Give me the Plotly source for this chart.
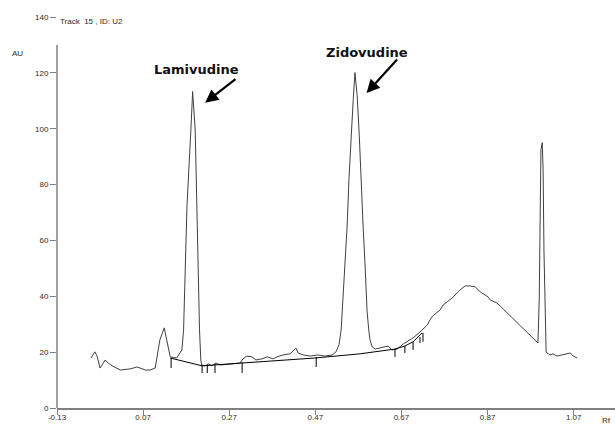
import plotly.graph_objects as go

# Densitogram trace (Rf, AU)
rf = [-0.051, -0.042, -0.037, -0.030, -0.018, -0.011, -0.002, 0.017, 0.040, 0.056,
      0.075, 0.086, 0.098, 0.109, 0.119, 0.126, 0.133, 0.148, 0.160, 0.164,
      0.167, 0.172, 0.181, 0.185, 0.191, 0.196, 0.201, 0.204, 0.206, 0.214,
      0.221, 0.230, 0.239, 0.249, 0.272, 0.295, 0.302, 0.311, 0.323, 0.332,
      0.346, 0.358, 0.372, 0.381, 0.395, 0.411, 0.418, 0.425, 0.430, 0.442,
      0.458, 0.476, 0.493, 0.509, 0.518, 0.525, 0.530, 0.534, 0.539, 0.544,
      0.548, 0.553, 0.558, 0.562, 0.567, 0.572, 0.576, 0.581, 0.586, 0.590,
      0.594, 0.597, 0.602, 0.609, 0.620, 0.639, 0.648, 0.660, 0.674, 0.690,
      0.697, 0.713, 0.730, 0.736, 0.743, 0.760, 0.767, 0.776, 0.788, 0.799,
      0.806, 0.818, 0.829, 0.841, 0.853, 0.871, 0.876, 0.892, 0.915, 0.939,
      0.957, 0.973, 0.987, 0.990, 0.992, 0.994, 0.997, 0.999, 1.001, 1.004,
      1.006, 1.008, 1.015, 1.022, 1.031, 1.043, 1.062, 1.069, 1.078]
au = [17.9, 20.1, 18.6, 14.3, 17.2, 16.1, 15.1, 13.6, 14.0, 14.7,
      13.6, 13.6, 14.3, 24.4, 28.7, 23.3, 18.3, 17.9, 20.8, 28.0,
      45.9, 72.8, 99.6, 113.3, 99.6, 57.7, 28.0, 17.2, 15.4, 15.1,
      15.8, 15.1, 16.1, 15.4, 15.8, 16.1, 17.6, 18.6, 18.3, 17.2,
      17.6, 18.3, 17.6, 18.3, 19.0, 19.4, 20.4, 21.5, 19.7, 19.0,
      18.6, 19.0, 18.6, 19.0, 20.1, 22.6, 28.0, 38.7, 53.0, 65.6,
      81.7, 97.8, 110.4, 120.1, 112.2, 97.8, 81.7, 64.9, 49.5, 35.1,
      28.0, 24.4, 21.9, 21.1, 21.5, 22.2, 20.8, 21.1, 22.9, 24.4,
      25.1, 27.2, 29.7, 31.5, 33.0, 35.1, 36.9, 38.0, 39.4, 41.2,
      42.3, 43.7, 43.7, 43.4, 41.6, 39.8, 38.7, 37.6, 34.1, 30.5,
      28.0, 25.4, 23.3, 38.7, 74.6, 92.5, 95.0, 85.3, 56.6, 31.5,
      20.1, 19.7, 19.0, 19.4, 18.6, 19.0, 19.7, 18.6, 17.9]

# Integration baseline
base_rf = [0.133, 0.207, 0.300, 0.469, 0.574, 0.655, 0.678, 0.697, 0.718]
base_au = [17.9, 15.1, 16.1, 17.9, 19.4, 21.1, 22.2, 23.7, 26.9]

# Peak delimiter marks
mark_rf = [0.135, 0.207, 0.219, 0.237, 0.300, 0.472, 0.655, 0.678, 0.697, 0.713, 0.720]
mark_top = [17.9, 15.4, 15.4, 15.8, 16.5, 18.3, 21.1, 22.2, 23.7, 25.4, 26.9]
mark_bot = [14.3, 12.5, 12.5, 12.5, 12.5, 14.7, 18.3, 19.7, 20.8, 23.3, 23.7]

x_ticks = [-0.13, 0.07, 0.27, 0.47, 0.67, 0.87, 1.07]
x_tick_labels = ["-0.13", "0.07", "0.27", "0.47", "0.67", "0.87", "1.07"]
y_ticks = [0, 20, 40, 60, 80, 100, 120, 140]

# peak labels: (name, text Rf, text AU, arrow tail Rf, tail AU, head Rf, head AU)
peaks = [
    ("Lamivudine", 0.195, 121.1, 0.288, 118.2, 0.214, 109.3),
    ("Zidovudine", 0.589, 127.2, 0.663, 125.3, 0.589, 112.8),
]

mx, my = [], []
for r, t, b in zip(mark_rf, mark_top, mark_bot):
    mx += [r, r, None]
    my += [t, b, None]

fig = go.Figure()
fig.add_trace(go.Scatter(x=rf, y=au, mode="lines",
                         line=dict(color="#404040", width=1), hoverinfo="skip"))
fig.add_trace(go.Scatter(x=base_rf, y=base_au, mode="lines",
                         line=dict(color="#000000", width=1), hoverinfo="skip"))
fig.add_trace(go.Scatter(x=mx, y=my, mode="lines",
                         line=dict(color="#000000", width=1), hoverinfo="skip"))

tickfont = dict(family="Liberation Sans, Arial, sans-serif", size=8, color="#2a2a2a")

fig.update_layout(
    width=615, height=428,
    margin=dict(l=57, r=0, t=17, b=20),
    paper_bgcolor="white", plot_bgcolor="white",
    showlegend=False,
    xaxis=dict(range=[-0.13, 1.166], tickvals=x_ticks, ticktext=x_tick_labels,
               showgrid=False, zeroline=False, showline=True, linecolor="#808080",
               linewidth=1.5, ticks="outside", ticklen=5, tickcolor="#808080",
               ticklabelstandoff=-4, tickfont=tickfont),
    yaxis=dict(range=[0, 140], tickvals=y_ticks, showgrid=False, zeroline=False,
               showline=False, ticks="outside", ticklen=6, tickcolor="#808080",
               tickfont=tickfont),
)

# y axis line (stops below the top tick as in the original)
fig.add_shape(type="line", xref="paper", yref="y", x0=0, x1=0, y0=0, y1=130,
              line=dict(color="#808080", width=1.5))

for name, tx, ty, ax, ay, hx, hy in peaks:
    fig.add_annotation(x=tx, y=ty, xref="x", yref="y", text="<b>" + name + "</b>", showarrow=False,
                       font=dict(family="DejaVu Sans, Verdana, sans-serif", size=13, color="#111111"))
    fig.add_annotation(x=hx, y=hy, ax=ax, ay=ay, xref="x", yref="y", axref="x", ayref="y",
                       text="", showarrow=True, arrowhead=2, arrowsize=1.2, arrowwidth=2.2,
                       arrowcolor="#000000")

fig.add_annotation(xref="paper", yref="y", x=0.002, y=138.4, xanchor="left", yanchor="middle",
                   text="Track  15 , ID: U2", showarrow=False, font=tickfont)
fig.add_annotation(xref="paper", yref="paper", x=-40/558, y=(408 - 53) / 391,
                   xanchor="center", yanchor="middle", text="AU", showarrow=False, font=tickfont)
fig.add_annotation(xref="paper", yref="paper", x=(606 - 57) / 558, y=-(420 - 408) / 391,
                   xanchor="center", yanchor="middle", text="Rf", showarrow=False, font=tickfont)

fig.write_html("out.html")
